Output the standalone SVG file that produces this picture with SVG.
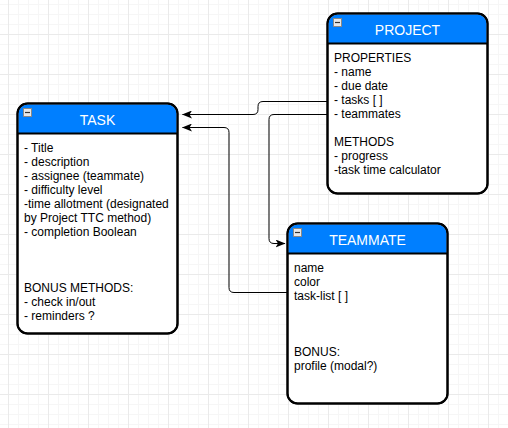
<svg xmlns="http://www.w3.org/2000/svg" width="508" height="428" viewBox="0 0 508 428">
<defs>
<pattern id="minor" width="10" height="10" patternUnits="userSpaceOnUse" x="8" y="4">
<path d="M0.5,0 V10 M0,0.5 H10" stroke="#f6f6f6" stroke-width="1" fill="none"/>
</pattern>
<pattern id="major" width="40" height="40" patternUnits="userSpaceOnUse" x="8" y="34">
<path d="M0.5,0 V40 M0,0.5 H40" stroke="#eaeaea" stroke-width="1" fill="none"/>
</pattern>
<marker id="arr" viewBox="0 0 10 8" refX="9.5" refY="4" markerWidth="10" markerHeight="8" markerUnits="userSpaceOnUse" orient="auto">
<path d="M0,0 L10,4 L0,8 L2.5,4 Z" fill="#000"/>
</marker>
</defs>
<style>
.box{fill:#fff;stroke:#000;stroke-width:2}
.hdr{fill:#007fff}
.sep{stroke:#000;stroke-width:2}
.title{font-family:"Liberation Sans",Arial,sans-serif;font-size:14px;fill:#fff;text-anchor:middle}
.body{font-family:"Liberation Sans",Arial,sans-serif;font-size:12px;fill:#000}
.conn{fill:none;stroke:#000;stroke-width:1;marker-end:url(#arr)}
.ico{fill:#e8e8e8;stroke:#888;stroke-width:1}
.icl{stroke:#333;stroke-width:1.2}
</style>
<rect width="508" height="428" fill="#fff"/>
<rect width="508" height="428" fill="url(#minor)"/>
<rect width="508" height="428" fill="url(#major)"/>

<g id="connectors">
<path class="conn" d="M327,101.5 H263 Q258,101.5 258,106.5 V109.5 Q258,114.5 253,114.5 H182.5"/>
<path class="conn" d="M327,114.5 H274 Q269,114.5 269,119.5 V238.5 Q269,243.5 274,243.5 H285"/>
<path class="conn" d="M287,292.5 H234 Q229,292.5 229,287.5 V132.5 Q229,127.5 224,127.5 H182.5"/>
</g>

<g id="task">
<rect class="box" x="17.5" y="103.5" width="160" height="230" rx="10"/>
<path class="hdr" d="M18.5,133.5 V113.5 A9,9 0 0 1 27.5,104.5 H167.5 A9,9 0 0 1 176.5,113.5 V133.5 Z"/>
<line class="sep" x1="17.5" y1="133.5" x2="177.5" y2="133.5"/>
<rect class="box" x="17.5" y="103.5" width="160" height="230" rx="10" style="fill:none"/>
<rect class="ico" x="23.5" y="108.5" width="8" height="8"/>
<line class="icl" x1="25" y1="112.5" x2="30" y2="112.5"/>
<text class="title" x="97.5" y="124.5">TASK</text>
<text class="body" x="24" y="152">- Title</text>
<text class="body" x="24" y="166">- description</text>
<text class="body" x="24" y="180">- assignee (teammate)</text>
<text class="body" x="24" y="194">- difficulty level</text>
<text class="body" x="24" y="208">-time allotment (designated</text>
<text class="body" x="24" y="222">by Project TTC method)</text>
<text class="body" x="24" y="236">- completion Boolean</text>
<text class="body" x="24" y="292">BONUS METHODS:</text>
<text class="body" x="24" y="306">- check in/out</text>
<text class="body" x="24" y="320">- reminders ?</text>
</g>

<g id="project">
<rect class="box" x="327.5" y="13.5" width="160" height="180" rx="10"/>
<path class="hdr" d="M328.5,43.5 V23.5 A9,9 0 0 1 337.5,14.5 H477.5 A9,9 0 0 1 486.5,23.5 V43.5 Z"/>
<line class="sep" x1="327.5" y1="43.5" x2="487.5" y2="43.5"/>
<rect class="box" x="327.5" y="13.5" width="160" height="180" rx="10" style="fill:none"/>
<rect class="ico" x="333.5" y="18.5" width="8" height="8"/>
<line class="icl" x1="335" y1="22.5" x2="340" y2="22.5"/>
<text class="title" x="407.5" y="34.5">PROJECT</text>
<text class="body" x="334" y="62">PROPERTIES</text>
<text class="body" x="334" y="76">- name</text>
<text class="body" x="334" y="90">- due date</text>
<text class="body" x="334" y="104">- tasks [ ]</text>
<text class="body" x="334" y="118">- teammates</text>
<text class="body" x="334" y="146">METHODS</text>
<text class="body" x="334" y="160">- progress</text>
<text class="body" x="334" y="174">-task time calculator</text>
</g>

<g id="teammate">
<rect class="box" x="287.5" y="223.5" width="160" height="180" rx="10"/>
<path class="hdr" d="M288.5,253.5 V233.5 A9,9 0 0 1 297.5,224.5 H437.5 A9,9 0 0 1 446.5,233.5 V253.5 Z"/>
<line class="sep" x1="287.5" y1="253.5" x2="447.5" y2="253.5"/>
<rect class="box" x="287.5" y="223.5" width="160" height="180" rx="10" style="fill:none"/>
<rect class="ico" x="293.5" y="228.5" width="8" height="8"/>
<line class="icl" x1="295" y1="232.5" x2="300" y2="232.5"/>
<text class="title" x="367.5" y="244.5">TEAMMATE</text>
<text class="body" x="294" y="272">name</text>
<text class="body" x="294" y="286">color</text>
<text class="body" x="294" y="300">task-list [ ]</text>
<text class="body" x="294" y="356">BONUS:</text>
<text class="body" x="294" y="370">profile (modal?)</text>
</g>
</svg>
